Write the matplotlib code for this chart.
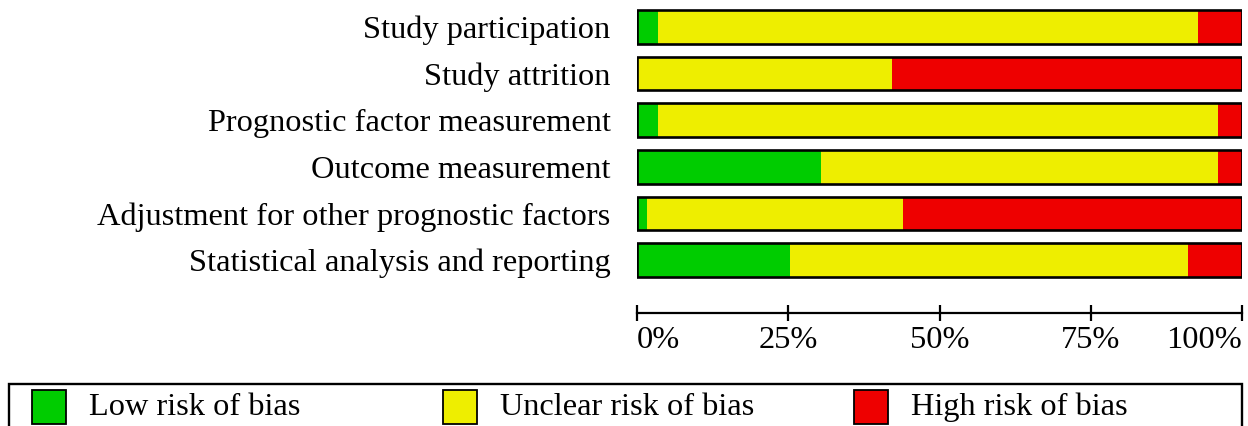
import matplotlib

matplotlib.use("Agg")
import matplotlib.pyplot as plt
import numpy as np
from matplotlib.patches import Rectangle

plt.rcParams["font.family"] = ["Liberation Serif", "DejaVu Serif"]

domains = [
    "Study participation",
    "Study attrition",
    "Prognostic factor measurement",
    "Outcome measurement",
    "Adjustment for other prognostic factors",
    "Statistical analysis and reporting",
]
# percent of studies per judgement
low = [3.4, 0.0, 3.4, 30.4, 1.7, 25.3]
unclear = [89.4, 42.2, 92.7, 65.7, 42.2, 65.8]
high = [7.2, 57.8, 3.9, 3.9, 56.1, 8.9]

levels = ["Low risk of bias", "Unclear risk of bias", "High risk of bias"]
colors = ["#00cc00", "#eeee00", "#ee0000"]
ticks = [0, 25, 50, 75, 100]
tick_labels = ["0%", "25%", "50%", "75%", "100%"]

W, H = 1248, 426
FS = 23.3

fig = plt.figure(figsize=(W / 100, H / 100), dpi=100)
ax = fig.add_axes([637 / W, 1 - 283.3 / H, 605 / W, 279.6 / H])

y = np.arange(len(domains))
left = np.zeros(len(domains))
for vals, col in zip([low, unclear, high], colors):
    ax.barh(y, vals, left=left, height=0.72, color=col, edgecolor="none")
    left += np.array(vals)
ax.barh(y, left, height=0.72, fill=False, edgecolor="black", linewidth=1.9)

ax.set_xlim(0, 100)
ax.set_ylim(len(domains) - 0.5, -0.5)
ax.set_yticks(y)
ax.set_yticklabels(domains, fontsize=FS)
ax.tick_params(axis="y", length=0, pad=19)

for s in ["top", "right", "left"]:
    ax.spines[s].set_visible(False)
ax.spines["bottom"].set_position(("outward", 21.6))
ax.spines["bottom"].set_linewidth(1.6)
ax.set_xticks(ticks)
ax.set_xticklabels(tick_labels, fontsize=FS)
ax.tick_params(axis="x", direction="inout", length=12.2, width=1.6, pad=3)
xl = ax.get_xticklabels()
xl[0].set_ha("left")
xl[-1].set_ha("right")

# legend box along the bottom edge
fig.patches.append(Rectangle((9 / W, -0.05), 1233 / W, 0.05 + (426 - 384) / H,
                             transform=fig.transFigure, fill=False,
                             edgecolor="black", linewidth=1.7))
for x0, lab, col in zip([32, 443, 854], levels, colors):
    fig.patches.append(Rectangle((x0 / W, 1 - 424 / H), 34 / W, 34 / H,
                                 transform=fig.transFigure, facecolor=col,
                                 edgecolor="black", linewidth=1.3))
    fig.text((x0 + 57) / W, 1 - 415 / H, lab, fontsize=FS, va="baseline")

fig.savefig("out.png", dpi=100)
